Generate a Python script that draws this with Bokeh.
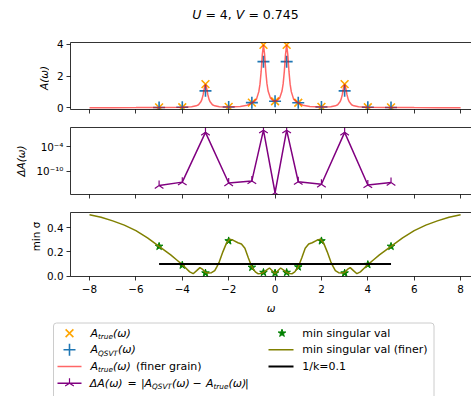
import numpy as np
from bokeh.plotting import figure
from bokeh.layouts import column, row
from bokeh.models import Range1d, FixedTicker, LinearAxis
from bokeh.embed import file_html
from bokeh.resources import INLINE
from bokeh.core.properties import value

# ---------------- data ----------------
omega = [-5, -4, -3, -2, -1, -0.5, 0, 0.5, 1, 2, 3, 4, 5]
a_true = [0.03, 0.04, 1.49, 0.06, 0.33, 3.95, 0.42, 3.95, 0.32, 0.06, 1.49, 0.04, 0.03]
a_qsvt = [0.03, 0.04, 1.07, 0.06, 0.33, 2.90, 0.42, 2.90, 0.32, 0.06, 1.07, 0.04, 0.03]
delta_a = [3e-14, 2e-13, 0.32, 1.2e-13, 4e-13, 1.1, 5e-16, 1.1, 2.5e-13, 6e-14, 0.32, 4e-14, 1.6e-13]
min_sigma = [0.245, 0.09, 0.025, 0.29, 0.072, 0.03, 0.025, 0.03, 0.075, 0.29, 0.025, 0.095, 0.245]

omega_fine_a = [-8, -7, -6, -5, -4, -3.6, -3.4, -3.3, -3.2, -3.15, -3.1, -3.05, -3.0,
                -2.95, -2.9, -2.85, -2.8, -2.7, -2.6, -2.4, -2.0, -1.5, -1.2, -1.0, -0.9,
                -0.8, -0.7, -0.65, -0.6, -0.55, -0.5, -0.45, -0.4, -0.35, -0.3, -0.2, -0.1,
                0.0,
                0.1, 0.2, 0.3, 0.35, 0.4, 0.45, 0.5, 0.55, 0.6, 0.65, 0.7, 0.8, 0.9, 1.0,
                1.2, 1.5, 2.0, 2.4, 2.6, 2.7, 2.8, 2.85, 2.9, 2.95, 3.0, 3.05, 3.1, 3.15,
                3.2, 3.3, 3.4, 3.6, 4, 5, 6, 7, 8]
a_true_fine = [0.012, 0.015, 0.02, 0.03, 0.04, 0.07, 0.13, 0.2, 0.38, 0.55, 0.84, 1.24, 1.49,
               1.24, 0.84, 0.55, 0.38, 0.2, 0.13, 0.075, 0.06, 0.09, 0.17, 0.32, 0.40,
               0.55, 1.02, 1.49, 2.27, 3.33, 3.95, 3.34, 2.29, 1.52, 1.06, 0.62, 0.46,
               0.42,
               0.46, 0.62, 1.06, 1.52, 2.29, 3.34, 3.95, 3.33, 2.27, 1.49, 1.02, 0.55, 0.40, 0.32,
               0.17, 0.09, 0.06, 0.075, 0.13, 0.2, 0.38, 0.55, 0.84, 1.24, 1.49, 1.24, 0.84, 0.55,
               0.38, 0.2, 0.13, 0.07, 0.04, 0.03, 0.02, 0.015, 0.012]

omega_fine_s = [-8, -7.5, -7, -6.5, -6, -5.5, -5, -4.75, -4.5, -4.25, -4, -3.84, -3.68,
                -3.53, -3.38, -3.24, -3.12, -3.0, -2.88, -2.74, -2.6, -2.5, -2.4, -2.25,
                -2.1, -1.95, -1.8, -1.6, -1.45, -1.3, -1.15, -1.0, -0.85, -0.74, -0.62,
                -0.5, -0.37, -0.24, -0.12, 0.0,
                0.12, 0.24, 0.37, 0.5, 0.62, 0.74, 0.85, 1.0, 1.15, 1.3, 1.45, 1.6, 1.8,
                1.95, 2.1, 2.25, 2.4, 2.5, 2.6, 2.74, 2.88, 3.0, 3.12, 3.24, 3.38, 3.53,
                3.68, 3.84, 4.0, 4.25, 4.5, 4.75, 5.0, 5.5, 6.0, 6.5, 7.0, 7.5, 8.0]
min_sigma_fine = [0.505, 0.485, 0.455, 0.42, 0.375, 0.315, 0.245, 0.21, 0.175, 0.135, 0.095,
                  0.065, 0.035, 0.02, 0.045, 0.07, 0.055, 0.03, 0.025, 0.028, 0.045, 0.08,
                  0.12, 0.2, 0.27, 0.305, 0.295, 0.275, 0.265, 0.23, 0.15, 0.075, 0.035,
                  0.02, 0.022, 0.03, 0.05, 0.067, 0.045, 0.022,
                  0.045, 0.067, 0.05, 0.03, 0.022, 0.02, 0.035, 0.075, 0.15, 0.23, 0.265,
                  0.275, 0.295, 0.305, 0.27, 0.2, 0.12, 0.08, 0.045, 0.028, 0.025, 0.03,
                  0.055, 0.07, 0.045, 0.02, 0.035, 0.065, 0.095, 0.135, 0.175, 0.21, 0.245,
                  0.315, 0.375, 0.42, 0.455, 0.485, 0.505]

kappa_inv = 0.1
x_ticks = [-8, -6, -4, -2, 0, 2, 4, 6, 8]
y1_ticks = [0, 2, 4]
y2_ticks = [1e-10, 1e-4]
y2_labels = {1e-4: "10\u207b\u2074", 1e-10: "10\u207b\u00b9\u2070"}
y3_ticks = [0.0, 0.2, 0.4]

# ---------------- styling helpers ----------------
FONT = "DejaVu Sans"
W = 471
FRAME_LEFT = 70          # page x of the plot frames
TICK_FS = "10.4px"


def style_axis(ax):
    ax.axis_line_color = "black"
    ax.axis_line_width = 0.8
    ax.major_tick_line_color = "black"
    ax.major_tick_line_width = 0.8
    ax.major_tick_out = 4
    ax.major_tick_in = 0
    ax.minor_tick_out = 0
    ax.minor_tick_in = 0
    ax.major_label_text_font = FONT
    ax.major_label_text_font_size = TICK_FS
    ax.major_label_text_color = "black"
    ax.major_label_standoff = 3
    ax.axis_label_text_font = FONT
    ax.axis_label_text_font_size = "10.4px"
    ax.axis_label_text_font_style = "normal"
    ax.axis_label_text_color = "black"


def blank_fig(width, height, x_range, y_range):
    f = figure(width=width, height=height, x_range=x_range, y_range=y_range,
               output_backend="svg", toolbar_location=None, min_border=0,
               x_axis_location=None, y_axis_location=None)
    f.grid.visible = False
    f.outline_line_color = None
    return f


def make_fig(lab_w, height, y_range, top, bottom, y_type="linear"):
    p = figure(width=W - lab_w, height=height, x_range=Range1d(-8.82, 8.47), y_range=y_range,
               y_axis_type=y_type, output_backend="svg", toolbar_location=None,
               min_border_left=FRAME_LEFT - lab_w, min_border_right=0, min_border_top=top,
               min_border_bottom=bottom)
    p.grid.visible = False
    p.outline_line_color = None
    style_axis(p.below[0])
    style_axis(p.left[0])
    p.below[0].ticker = FixedTicker(ticks=x_ticks, minor_ticks=[])
    p.below[0].major_label_overrides = {t: ("\u2212" + str(-t) if t < 0 else str(t)) for t in x_ticks}
    top_ax = LinearAxis(ticker=FixedTicker(ticks=[], minor_ticks=[]),
                        major_label_standoff=0, major_tick_out=0, minor_tick_out=0,
                        axis_line_color="black", axis_line_width=0.8)
    p.add_layout(top_ax, "above")
    return p


def hide_xlabels(p):
    p.below[0].major_label_overrides = {t: "" for t in x_ticks}
    p.below[0].major_label_standoff = 0


def ylabel_fig(width, height, cx, cy_from_top, text, style):
    f = blank_fig(width, height, Range1d(0, width), Range1d(0, height))
    f.text([cx], [height - cy_from_top], text=[text], angle=np.pi / 2,
           text_font=value(FONT), text_font_size="10.4px", text_font_style=style,
           text_align="center", text_baseline="middle", text_color="black")
    return f


# ---------------- title strip ----------------
TH = 28
pt = blank_fig(W, TH, Range1d(0, W), Range1d(TH, 0))
for tx, ts, st in [(191.7, "U", "italic"), (204.9, "= 4,", "normal"),
                   (235.3, "V", "italic"), (247.9, "= 0.745", "normal")]:
    pt.text([tx], [14], text=[ts], text_font=value(FONT), text_font_size="12.5px",
            text_font_style=st, text_align="left", text_baseline="middle", text_color="black")

# ---------------- panel 1: A(omega) ----------------
L1 = 49
H1 = 90
p1 = make_fig(L1, H1, Range1d(-0.1, 4.1), 14, 9)
hide_xlabels(p1)
p1.left[0].ticker = FixedTicker(ticks=y1_ticks, minor_ticks=[])
p1.scatter(omega, a_true, marker="x", size=11, line_color="orange", line_width=1.6)
p1.scatter(omega, a_qsvt, marker="cross", size=12, line_color="#1f77b4", line_width=1.6)
p1.line(omega_fine_a, a_true_fine, line_color="red", line_alpha=0.6, line_width=1.5)
lab1 = ylabel_fig(L1, H1, 43, 75.7 - TH, "A(\u03c9)", "italic")

# ---------------- panel 2: Delta A (log) ----------------
L2 = 27
H2 = 85
p2 = make_fig(L2, H2, Range1d(10 ** -15.73, 10 ** 0.69), 9, 9, y_type="log")
hide_xlabels(p2)
p2.left[0].ticker = FixedTicker(ticks=y2_ticks, minor_ticks=[])
p2.left[0].major_label_overrides = y2_labels
p2.line(omega, delta_a, line_color="purple", line_width=1.5)
p2.scatter(omega, delta_a, marker="y", angle=np.pi, size=10, line_color="purple", line_width=1.2)
lab2 = ylabel_fig(L2, H2, 20, 160.5 - 118, "\u0394A(\u03c9)", "italic")

# ---------------- panel 3: min singular value ----------------
L3 = 42
H3 = 113
p3 = make_fig(L3, H3, Range1d(-0.003, 0.524), 9, 37)
p3.left[0].ticker = FixedTicker(ticks=y3_ticks, minor_ticks=[])
p3.left[0].major_label_overrides = {0.0: "0.0", 0.2: "0.2", 0.4: "0.4"}
xa3 = p3.below[0]
xa3.axis_label = "\u03c9"
xa3.axis_label_text_font_style = "italic"
xa3.axis_label_standoff = 6
xa3.major_label_standoff = 4
p3.scatter(omega, min_sigma, marker="star", size=8, fill_color="green", line_color="green")
p3.line(omega_fine_s, min_sigma_fine, line_color="olive", line_width=1.5)
p3.line([omega[0], omega[-1]], [kappa_inv, kappa_inv], line_color="black", line_width=2)
lab3 = ylabel_fig(L3, H3, 35, 245.4 - 203, "min \u03c3", "normal")

# ---------------- legend panel (layout in page pixels) ----------------
pl = blank_fig(W, 80, Range1d(0, W), Range1d(396, 316))
pl.quad(left=[53], right=[433.5], top=[322.5], bottom=[405], fill_color="white",
        line_color="#cccccc", line_width=1, border_radius=3)

r = [332.7, 349.3, 366.0, 382.7]
LFS = "11px"
SFS = "7.3px"


def t(x, y, s, style="normal", size=LFS, dy=0.0):
    pl.text([x], [y + dy], text=[s], text_font=value(FONT), text_font_size=size,
            text_font_style=style, text_baseline="middle", text_align="left",
            text_color="black")


def sub(x, y, s):
    t(x, y, s, style="italic", size=SFS, dy=3.4)


# handles
pl.scatter([69], [r[0]], marker="x", size=11, line_color="orange", line_width=1.6)
pl.scatter([69], [r[1]], marker="cross", size=12, line_color="#1f77b4", line_width=1.6)
pl.line([57, 81], [r[2], r[2]], line_color="red", line_alpha=0.6, line_width=1.5)
pl.line([57, 81], [r[3], r[3]], line_color="purple", line_width=1.5)
pl.scatter([69], [r[3]], marker="y", angle=np.pi, size=10, line_color="purple", line_width=1.2)
pl.scatter([281.5], [r[0]], marker="star", size=8, fill_color="green", line_color="green")
pl.line([268, 293], [r[1], r[1]], line_color="olive", line_width=1.5)
pl.line([268, 293], [r[2], r[2]], line_color="black", line_width=2)

# column 1 texts
t(90, r[0], "A", "italic"); sub(97.5, r[0], "true"); t(112.5, r[0], "(\u03c9)", "italic")
t(90, r[1], "A", "italic"); sub(97.5, r[1], "QSVT"); t(117.5, r[1], "(\u03c9)", "italic")
t(90, r[2], "A", "italic"); sub(97.5, r[2], "true"); t(112.5, r[2], "(\u03c9)", "italic")
t(135.5, r[2], "(finer grain)")
t(89.3, r[3], "\u0394A(\u03c9)", "italic")
t(127.0, r[3], "=")
t(140.5, r[3], "|")
t(144.0, r[3], "A", "italic"); sub(151.5, r[3], "QSVT"); t(171.5, r[3], "(\u03c9)", "italic")
t(192.0, r[3], "\u2212")
t(205.5, r[3], "A", "italic"); sub(213.0, r[3], "true"); t(228.0, r[3], "(\u03c9)", "italic")
t(244.5, r[3], "|")

# column 2 texts
t(301.7, r[0], "min singular val")
t(301.7, r[1], "min singular val (finer)")
t(301.7, r[2], "1/k=0.1")

layout = column(pt, row(lab1, p1, spacing=0), row(lab2, p2, spacing=0),
                row(lab3, p3, spacing=0), pl, spacing=0)
open("out.html", "w").write(file_html(layout, INLINE))
